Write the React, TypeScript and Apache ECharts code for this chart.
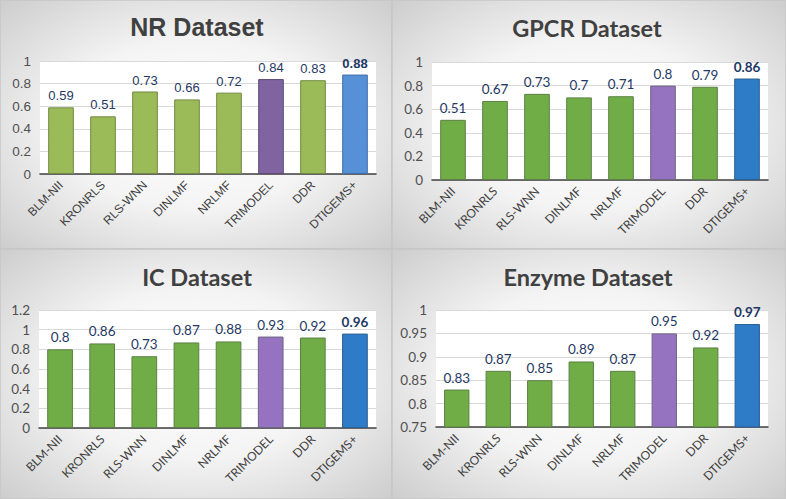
import React, { useEffect, useRef } from "react";
import * as echarts from "echarts";

const categories = ["BLM-NII", "KRONRLS", "RLS-WNN", "DINLMF", "NRLMF", "TRIMODEL", "DDR", "DTIGEMS+"];
const nrValues = [0.59, 0.51, 0.73, 0.66, 0.72, 0.84, 0.83, 0.88];
const gpcrValues = [0.51, 0.67, 0.73, 0.7, 0.71, 0.8, 0.79, 0.86];
const icValues = [0.8, 0.86, 0.73, 0.87, 0.88, 0.93, 0.92, 0.96];
const enzymeValues = [0.83, 0.87, 0.85, 0.89, 0.87, 0.95, 0.92, 0.97];
const titles = ["NR Dataset", "GPCR Dataset", "IC Dataset", "Enzyme Dataset"];
const yMins = [0, 0, 0, 0.75];
const yMaxs = [1, 1, 1.2, 1];
const yIntervals = [0.2, 0.2, 0.2, 0.05];

const seriesValues = [nrValues, gpcrValues, icValues, enzymeValues];

// layout (pixels)
const panels = [
  { x: 0, y: 0, w: 392, h: 249, grid: { left: 40, top: 61, width: 336, height: 113 }, tx: 197, ty: 27 },
  { x: 392, y: 0, w: 394, h: 249, grid: { left: 432, top: 62, width: 336, height: 118 }, tx: 587, ty: 28 },
  { x: 0, y: 249, w: 392, h: 250, grid: { left: 39, top: 310, width: 337, height: 118 }, tx: 197, ty: 277 },
  { x: 392, y: 249, w: 394, h: 250, grid: { left: 436, top: 310, width: 332, height: 117 }, tx: 588, ty: 277 },
];

const calibriLike = { font: "Lato, sans-serif", green: "#70ad47", greenB: "#5b7f45", purple: "#9673c0", purpleB: "#6e6480", blue: "#2e7bc8", blueB: "#2a5f91", titleSize: 23.5, ySize: 13.5, xSize: 12, vSize: 13.5 };
const styles = [
  { font: "'Liberation Sans', Arial, sans-serif", green: "#9bbb59", greenB: "#71893f", purple: "#8064a2", purpleB: "#5c4878", blue: "#5690d6", blueB: "#3e6ea8", titleSize: 25, ySize: 13.5, xSize: 12, vSize: 13 },
  calibriLike,
  calibriLike,
  calibriLike,
];

export default function App() {
  const ref = useRef<HTMLDivElement>(null);
  useEffect(() => {
    if (!ref.current) return;
    const chart = echarts.init(ref.current, undefined, { renderer: "svg" });

    const graphic: any[] = [];
    panels.forEach((p, i) => {
      graphic.push({
        type: "rect",
        z: -100,
        shape: { x: p.x, y: p.y, width: p.w, height: p.h },
        style: {
          fill: {
            type: "radial", x: 0.5, y: 0.5, r: 0.75,
            colorStops: [
              { offset: 0, color: "#ffffff" },
              { offset: 0.45, color: "#f4f4f4" },
              { offset: 1, color: "#c8c8c8" },
            ],
          },
          stroke: "#c6c6c6",
          lineWidth: 1.5,
        },
      });
      graphic.push({
        type: "text",
        z: 100,
        x: p.tx,
        y: p.ty,
        style: {
          text: titles[i],
          align: "center",
          verticalAlign: "middle",
          fill: "#404040",
          font: `bold ${styles[i].titleSize}px ${styles[i].font}`,
        },
      });
    });

    const option: any = {
      animation: false,
      backgroundColor: "#ffffff",
      graphic,
      grid: panels.map((p) => ({
        ...p.grid,
        show: true,
        backgroundColor: "#ffffff",
        borderWidth: 0,
        containLabel: false,
      })),
      xAxis: panels.map((_, i) => ({
        type: "category",
        gridIndex: i,
        data: categories,
        axisLine: { show: true, lineStyle: { color: "#404040", width: 1.5 } },
        axisTick: { show: false },
        axisLabel: {
          interval: 0,
          rotate: 45,
          margin: 9,
          color: "#404040",
          fontSize: styles[i].xSize,
          fontFamily: styles[i].font,
        },
      })),
      yAxis: panels.map((_, i) => ({
        type: "value",
        gridIndex: i,
        min: yMins[i],
        max: yMaxs[i],
        interval: yIntervals[i],
        axisLine: { show: false },
        axisTick: { show: false },
        splitLine: { lineStyle: { color: "#d9d9d9", width: 1 } },
        axisLabel: {
          margin: 9,
          color: "#505050",
          fontSize: styles[i].ySize,
          fontFamily: styles[i].font,
          formatter: (v: number) => String(Math.round(v * 100) / 100),
        },
      })),
      series: seriesValues.map((vals, i) => {
        const s = styles[i];
        return {
          type: "bar",
          xAxisIndex: i,
          yAxisIndex: i,
          barWidth: "61%",
          data: vals.map((v, j) => {
            const isPurple = j === 5;
            const isBlue = j === 7;
            return {
              value: v,
              itemStyle: {
                color: isBlue ? s.blue : isPurple ? s.purple : s.green,
                borderColor: isBlue ? s.blueB : isPurple ? s.purpleB : s.greenB,
                borderWidth: 1,
              },
              label: isBlue ? { fontWeight: "bold" } : undefined,
            };
          }),
          label: {
            show: true,
            position: "top",
            distance: 5,
            color: "#1f3864",
            fontSize: s.vSize,
            fontFamily: s.font,
          },
        };
      }),
    };
    chart.setOption(option);
    return () => chart.dispose();
  }, []);
  return <div ref={ref} style={{ position: "absolute", left: 0, top: 0, width: 786, height: 499 }} />;
}
